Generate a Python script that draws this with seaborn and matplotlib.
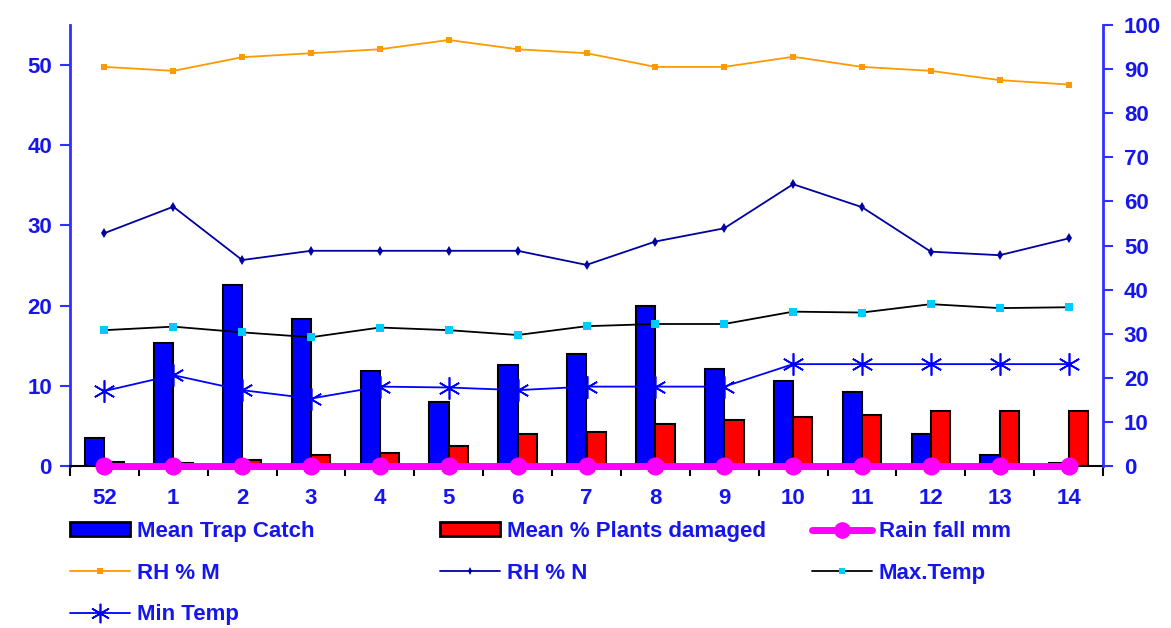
import numpy as np
import pandas as pd
import matplotlib
matplotlib.use('Agg')
import matplotlib.pyplot as plt
import seaborn as sns
from matplotlib.lines import Line2D
from matplotlib.patches import Patch

# Weekly data (week 52 of previous year to week 14)
weeks = ['52', '1', '2', '3', '4', '5', '6', '7', '8', '9', '10', '11', '12', '13', '14']
trap_catch = [3.5, 15.4, 22.6, 18.3, 11.9, 8.0, 12.6, 14.0, 19.9, 12.1, 10.6, 9.2, 4.0, 1.4, 0.4]
plants_damaged = [0.45, 0.4, 0.7, 1.4, 1.6, 2.5, 4.0, 4.2, 5.2, 5.7, 6.1, 6.4, 6.8, 6.8, 6.8]
rainfall = [0, 0, 0, 0, 0, 0, 0, 0, 0, 0, 0, 0, 0, 0, 0]
rh_m = [90.5, 89.6, 92.7, 93.6, 94.5, 96.6, 94.5, 93.6, 90.5, 90.5, 92.8, 90.5, 89.6, 87.5, 86.5]
rh_n = [52.8, 58.8, 46.7, 48.8, 48.8, 48.8, 48.8, 45.6, 50.9, 53.9, 63.9, 58.7, 48.6, 47.8, 51.6]
max_temp = [30.8, 31.6, 30.3, 29.2, 31.4, 30.8, 29.7, 31.7, 32.2, 32.2, 35.0, 34.8, 36.7, 35.8, 36.0]
min_temp = [17.0, 20.6, 17.2, 15.3, 18.0, 17.8, 17.2, 18.0, 18.0, 18.0, 23.1, 23.1, 23.1, 23.1, 23.1]

bar_names = ['Mean Trap Catch', 'Mean % Plants damaged']

sns.set_style('white')
plt.rcParams['font.family'] = ['Liberation Sans', 'DejaVu Sans']
plt.rcParams['font.weight'] = 'bold'

BLUE_TXT = '#1515F0'
SPINE_BLUE = '#3030FF'

fig = plt.figure(figsize=(11.71, 6.28), dpi=100)
ax = fig.add_axes([70 / 1171, 1 - 466 / 628, (1103 - 70) / 1171, (466 - 25) / 628])

bars = pd.DataFrame({
    'week': weeks * 2,
    'value': trap_catch + plants_damaged,
    'series': [bar_names[0]] * len(weeks) + [bar_names[1]] * len(weeks),
})
sns.barplot(data=bars, x='week', y='value', hue='series', order=weeks, hue_order=bar_names,
            palette=['#0000FF', '#FF0000'], width=0.56, gap=0, saturation=1,
            edgecolor='black', linewidth=1.5, errorbar=None, legend=False, ax=ax)

ax.set_xlim(-0.5, len(weeks) - 0.5)
ax.set_ylim(0, 55)
ax.set_yticks(range(0, 51, 10))
ax.set_xlabel('')
ax.set_ylabel('')

pos = np.arange(len(weeks))
ax2 = ax.twinx()
sns.lineplot(x=pos, y=rh_m, ax=ax2, color='#FF9900', lw=1.3, marker='s', markersize=5,
             markeredgewidth=0)
sns.lineplot(x=pos, y=rh_n, ax=ax2, color='#0000A0', lw=1.3, marker='d', markersize=5,
             markeredgewidth=0)
sns.lineplot(x=pos, y=max_temp, ax=ax2, color='black', lw=1.3, marker='s', markersize=6,
             markerfacecolor='#00CCFF', markeredgewidth=0)
sns.lineplot(x=pos, y=min_temp, ax=ax2, color='#0000FF', lw=1.3, marker=(6, 2, 0),
             markersize=16, markeredgecolor='#0000FF', markeredgewidth=1.2)
sns.lineplot(x=pos, y=rainfall, ax=ax2, color='#FF00FF', lw=5, marker='o', markersize=13,
             markeredgewidth=0, clip_on=False)
ax2.set_ylim(0, 100)
ax2.set_yticks(range(0, 101, 10))
ax2.set_ylabel('')

# spines and ticks
for a in (ax, ax2):
    a.spines['top'].set_visible(False)
ax.spines['right'].set_visible(False)
ax2.spines['left'].set_visible(False)
ax2.spines['bottom'].set_visible(False)
ax.spines['left'].set_color(SPINE_BLUE)
ax.spines['left'].set_linewidth(2)
ax2.spines['right'].set_color(SPINE_BLUE)
ax2.spines['right'].set_linewidth(2)
ax.spines['bottom'].set_color('black')
ax.spines['bottom'].set_linewidth(1.5)

ax.tick_params(axis='y', colors=SPINE_BLUE, labelcolor=BLUE_TXT, length=7, width=1.5,
               direction='out', labelsize=16, pad=6, left=True)
ax2.tick_params(axis='y', colors=SPINE_BLUE, labelcolor=BLUE_TXT, length=7, width=1.5,
                direction='out', labelsize=16, pad=8, right=True)
ax.set_xticks(pos)
ax.set_xticklabels(weeks)
ax.set_xticks(np.arange(-0.5, len(weeks), 1.0), minor=True)
ax.tick_params(axis='x', which='major', length=0, labelcolor=BLUE_TXT, labelsize=16, pad=16)
ax.tick_params(axis='x', which='minor', length=7, width=1.5, color='black', bottom=True)
for lab in ax.get_xticklabels() + ax.get_yticklabels() + ax2.get_yticklabels():
    lab.set_fontweight('bold')

# legend laid out in three columns like the original
h_trap = Patch(facecolor='#0000FF', edgecolor='black', linewidth=2)
h_dmg = Patch(facecolor='#FF0000', edgecolor='black', linewidth=2)
h_rain = Line2D([], [], color='#FF00FF', lw=5, marker='o', markersize=12, markeredgewidth=0)
h_rhm = Line2D([], [], color='#FF9900', lw=1.3, marker='s', markersize=4, markeredgewidth=0)
h_rhn = Line2D([], [], color='#0000A0', lw=1.3, marker='d', markersize=4, markeredgewidth=0)
h_max = Line2D([], [], color='black', lw=1.3, marker='s', markersize=5,
               markerfacecolor='#00CCFF', markeredgewidth=0)
h_min = Line2D([], [], color='#0000FF', lw=1.3, marker=(6, 2, 0), markersize=14,
               markeredgecolor='#0000FF', markeredgewidth=1.2)

columns = [
    (70, [h_trap, h_rhm, h_min], [bar_names[0], 'RH % M', 'Min Temp']),
    (440, [h_dmg, h_rhn], [bar_names[1], 'RH % N']),
    (812, [h_rain, h_max], ['Rain fall mm', 'Max.Temp']),
]
for x0, hs, ls in columns:
    fig.legend(hs, ls, loc='upper left', bbox_to_anchor=(x0 / 1171, 1 - 521 / 628),
               frameon=False, borderpad=0, borderaxespad=0, handlelength=2.7,
               handleheight=0.6, handletextpad=0.3, labelspacing=0.93,
               prop={'size': 16, 'weight': 'bold'}, labelcolor=BLUE_TXT)

fig.savefig('out.png', dpi=100)
